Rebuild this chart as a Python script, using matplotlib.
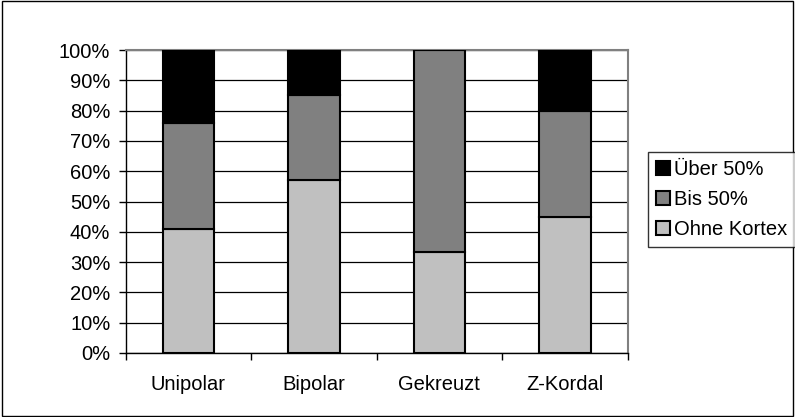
import numpy as np
import matplotlib.pyplot as plt
from matplotlib.patches import Rectangle

plt.rcParams['font.family'] = ['Liberation Sans', 'DejaVu Sans']

categories = ['Unipolar', 'Bipolar', 'Gekreuzt', 'Z-Kordal']
ohne_kortex = [41, 57, 33.3, 45]
bis_50 = [35, 28, 66.7, 35]
ueber_50 = [24, 15, 0, 20]

fs = 14.5
fig = plt.figure(figsize=(7.95, 4.17), dpi=100)
ax = fig.add_axes([0.158, 0.1535, 0.6316, 0.7265])

x = np.arange(len(categories))
w = 0.41
bottom2 = np.array(ohne_kortex)
bottom3 = bottom2 + np.array(bis_50)
b1 = ax.bar(x, ohne_kortex, w, color='#C0C0C0', edgecolor='black', linewidth=1.5, label='Ohne Kortex', zorder=3)
b2 = ax.bar(x, bis_50, w, bottom=bottom2, color='#808080', edgecolor='black', linewidth=1.5, label='Bis 50%', zorder=3)
b3 = ax.bar(x, ueber_50, w, bottom=bottom3, color='black', edgecolor='black', linewidth=1.5, label='Über 50%', zorder=3)

ax.set_xlim(-0.5, len(categories) - 0.5)
ax.set_ylim(0, 100)
ax.set_yticks(np.arange(0, 101, 10))
ax.set_yticklabels([f'{v}%' for v in range(0, 101, 10)])
ax.yaxis.grid(True, color='black', linewidth=0.9, zorder=0)
ax.set_xticks(x)
ax.set_xticklabels(categories)
ax.set_xticks(np.arange(-0.5, len(categories), 1), minor=True)
ax.tick_params(axis='x', which='major', length=0, pad=16, labelsize=fs)
ax.tick_params(axis='x', which='minor', length=5, width=1, direction='out')
ax.tick_params(axis='y', length=5, width=1, direction='out', labelsize=fs, pad=6)
for s in ['top', 'right']:
    ax.spines[s].set_color('#808080')
    ax.spines[s].set_linewidth(1.5)
for s in ['left', 'bottom']:
    ax.spines[s].set_color('black')
    ax.spines[s].set_linewidth(1)

leg = fig.legend(handles=[b3, b2, b1], labels=['Über 50%', 'Bis 50%', 'Ohne Kortex'],
                 loc='center left', bbox_to_anchor=(0.815, 0.522), fontsize=fs,
                 frameon=True, fancybox=False, handlelength=0.7, handleheight=0.7,
                 handletextpad=0.2, borderpad=0.4, labelspacing=0.55, borderaxespad=0)
leg.get_frame().set_edgecolor('black')
leg.get_frame().set_linewidth(1)

fig.patches.append(Rectangle((0.002, 0.003), 0.995, 0.994, transform=fig.transFigure,
                             fill=False, edgecolor='black', linewidth=1))

fig.savefig('out.png', dpi=100)
